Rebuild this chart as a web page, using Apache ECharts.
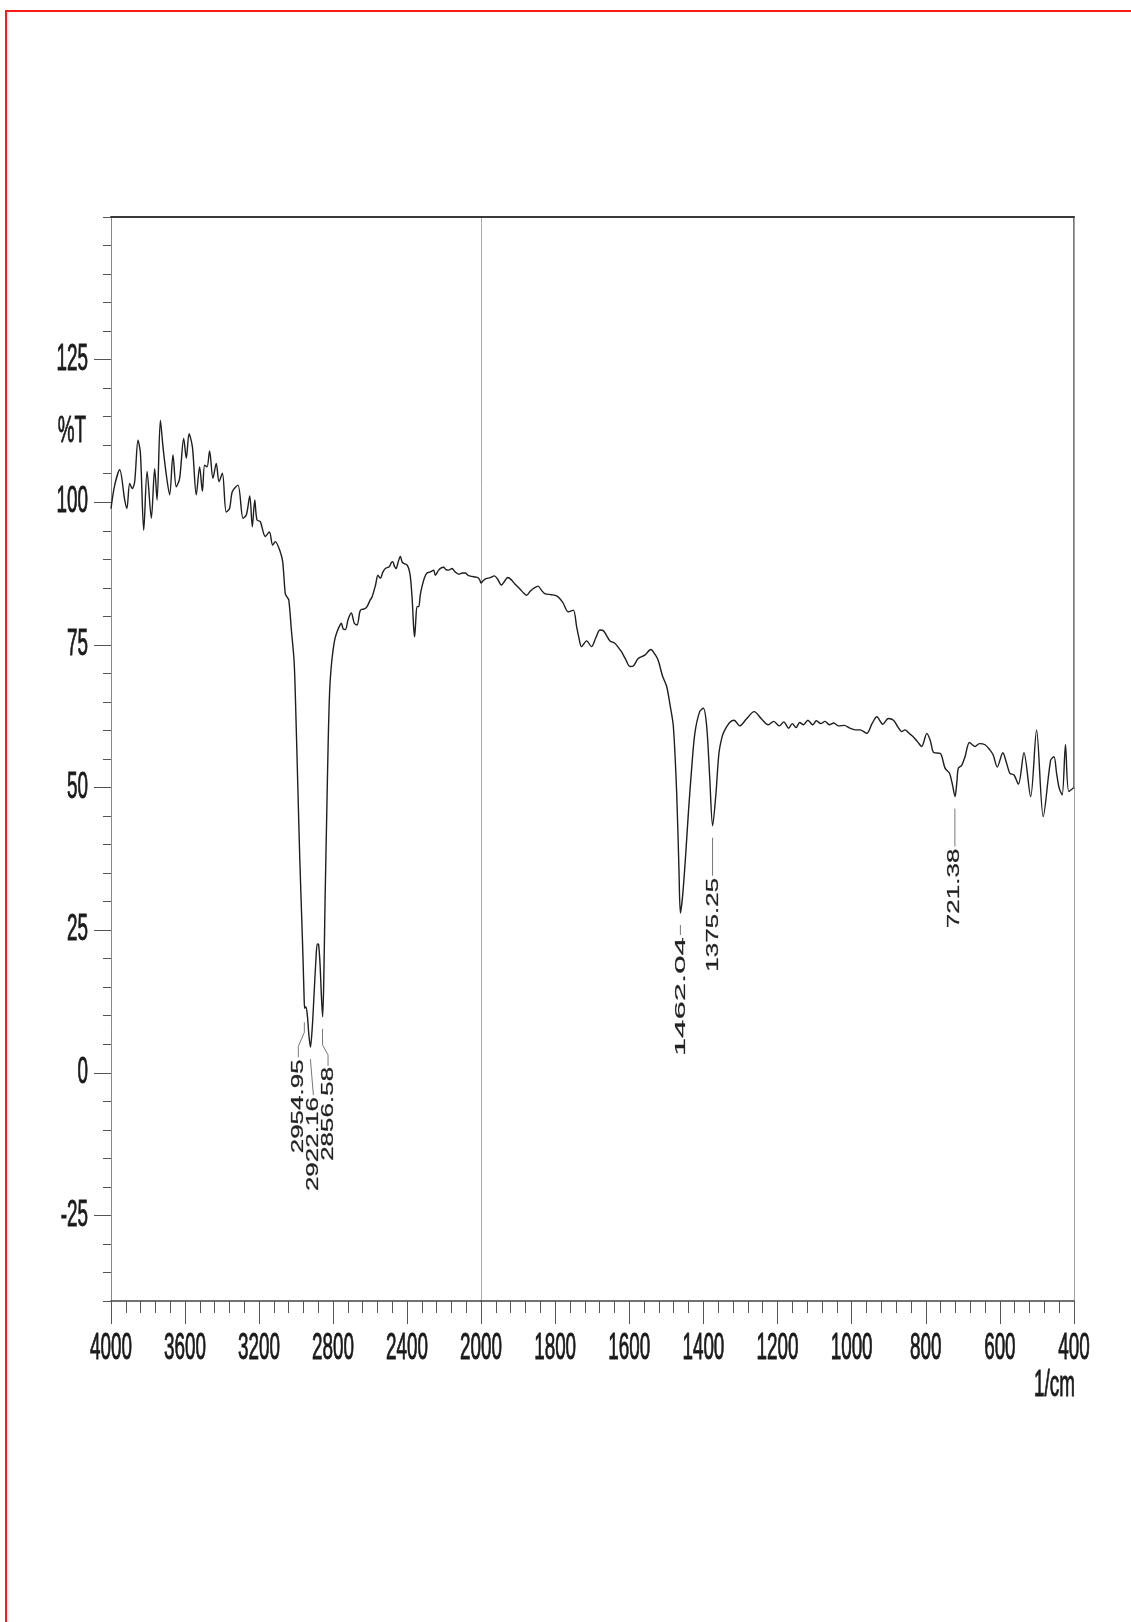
<!DOCTYPE html>
<html><head><meta charset="utf-8">
<script src="https://cdn.jsdelivr.net/npm/echarts@6/dist/echarts.min.js"></script>
<style>html,body{margin:0;padding:0;background:#fff}#c{width:1131px;height:1622px}</style>
</head><body><div id="c"></div>
<script>
// ---- data ----
const wavenumbers = [4000,3980,3953,3926,3914,3899,3885,3872,3854,3841,3823,3805,3782,3764,3751,3733,3719,3701,3683,3665,3647,3629,3607,3593,3578,3560,3539,3521,3506,3494,3481,3467,3449,3431,3416,3398,3377,3359,3344,3314,3286,3268,3250,3236,3223,3211,3193,3166,3144,3126,3112,3085,3072,3058,3049,3039,3025,3010,3000,2990,2980,2970,2962,2956,2953,2948,2940,2930,2922,2912,2902,2892,2885,2878,2870,2862,2856,2850,2843,2834,2826,2818,2810,2800,2790,2778,2765,2755,2745,2733,2718,2701,2685,2670,2655,2647,2630,2616,2600,2589,2570,2557,2544,2530,2517,2496,2485,2477,2468,2459,2448,2436,2426,2418,2400,2390,2382,2372,2364,2359,2353,2346,2337,2328,2319,2305,2292,2274,2256,2247,2229,2215,2202,2190,2175,2157,2140,2121,2100,2085,2070,2049,2030,2013,2000,1990,1975,1964,1955,1945,1935,1928,1918,1909,1895,1885,1877,1866,1856,1846,1837,1828,1810,1796,1787,1778,1765,1751,1742,1735,1729,1715,1702,1690,1679,1670,1660,1652,1639,1630,1621,1610,1598,1589,1576,1558,1542,1530,1522,1510,1499,1490,1481,1472,1466,1462,1456,1448,1440,1432,1423,1410,1400,1391,1383,1375,1366,1358,1349,1342,1329,1317,1302,1284,1263,1243,1225,1210,1195,1183,1170,1160,1150,1140,1130,1118,1105,1095,1083,1072,1060,1048,1035,1020,1005,990,977,959,945,932,916,901,887,875,865,856,845,834,822,811,797,788,778,761,748,736,728,721,716,712,703,694,682,667,655,640,627,618,607,592,582,573,562,550,535,517,501,483,463,454,447,440,432,423,414,400];
const transmittance = [98.9,103.0,105.7,100.4,98.9,103.3,102.4,103.6,110.9,108.6,95.1,105.4,97.2,105.9,100.4,114.4,109.7,104.8,101.3,108.3,102.7,104.2,111.2,107.7,112.0,109.7,101.3,106.2,101.9,106.5,106.2,109.0,104.2,106.8,103.6,105.1,98.3,98.9,101.9,103.0,97.2,97.8,101.1,95.7,100.4,96.9,96.6,94.0,94.8,92.5,93.1,91.3,89.6,84.0,83.4,82.9,77.6,72,62,50,38,28,20,13,11.3,11.6,10.5,6.5,4.5,8,14,20,22.6,22.5,19,13,9.8,16,30,45,58,67,71,74,76,77.3,78.3,78.8,77.8,77.7,79.5,80.6,78.8,78.5,80.8,81.2,81.3,81.7,82.8,83.4,85.5,87.2,86.7,87.8,88.4,88.7,89.4,89.6,88.8,88.4,89.5,90.5,89.5,89.3,89.0,88.3,87.0,83,78,76.4,79,81.7,81.7,83.8,85.2,86.8,87.6,87.8,88.1,87.2,88.1,88.5,88.6,88.2,88.1,88.4,87.8,87.4,87.6,87.6,87.2,87.0,86.9,86.7,85.8,86.5,86.8,87.1,86.5,85.5,86.3,86.8,86.4,85.7,84.8,84.1,83.7,84.5,85.0,85.3,84.6,84.0,83.8,83.6,83.1,82.3,80.8,81.1,78.2,76,74.7,75.7,74.7,76.3,77.6,77.5,76.5,75.7,75.3,74.6,73.8,72.5,71.2,71.3,72.6,73.2,74.2,73.3,72.3,69.5,67.7,64.5,60.7,49,36,28,31,38,46,53,59.5,63.3,63.9,60.7,51.9,43.3,49,56,59,60.1,61.4,61.8,60.8,62.0,63.3,62.0,61.0,61.6,60.8,61.5,60.4,61.2,60.5,61.4,61.0,61.8,61.0,61.7,61.2,61.6,61.0,61.3,60.8,60.9,60.4,60.1,60.1,59.5,61.2,62.4,61.1,62.1,61.8,60.6,59.8,60.1,59.5,58.9,58.0,57.2,59.5,58.3,56.1,56.0,53.4,52.5,50.5,48.4,51,53.4,53.9,55.4,57.9,57.2,57.7,57.5,56.6,55.7,53.6,56.1,54.3,52.5,52.2,50.6,56.1,48.4,60.1,44.9,54.8,55.4,52.5,49.9,48.7,57.5,49.3,50];
const xTickLabelsHigh = [4000,3600,3200,2800,2400,2000];
const xTickLabelsLow = [1800,1600,1400,1200,1000,800,600,400];
const yTickLabels = [125,100,75,50,25,0,-25];
const peakWn = [2954.95,2922.16,2856.58,1462.04,1375.25,721.38];
const peakT = [11.3,4.5,9.8,28,43.3,48.4];
const peakText = ['2954.95','2922.16','2856.58','1462.04','1375.25','721.38'];

// ---- build series ----
const highData = [], lowData = [];
wavenumbers.forEach((w,i)=>{
  if (w >= 2000) highData.push([w, transmittance[i]]);
  if (w <= 2000) lowData.push([w, transmittance[i]]);
});

const chart = echarts.init(document.getElementById('c'), null, {renderer:'canvas'});
const tickStyle = {color:'#555', width:1};
const hide = {show:false};
const yBase = {type:'value', min:-40, max:150, interval:5, axisLabel:hide, splitLine:hide};
chart.setOption({
  animation:false,
  backgroundColor:'#fff',
  grid:[{left:111, top:217, width:370, height:1084},{left:481, top:217, width:593, height:1084}],
  xAxis:[
    {gridIndex:0, type:'value', min:2000, max:4000, inverse:true, interval:400, position:'bottom',
     axisLine:{show:true, onZero:false, lineStyle:{color:'#444', width:1.5}},
     axisTick:{show:true, length:23, lineStyle:tickStyle},
     minorTick:{show:true, splitNumber:5, length:12, lineStyle:tickStyle},
     axisLabel:hide, splitLine:hide, minorSplitLine:hide},
    {gridIndex:1, type:'value', min:400, max:2000, inverse:true, interval:200, position:'bottom',
     axisLine:{show:true, onZero:false, lineStyle:{color:'#444', width:1.5}},
     axisTick:{show:true, length:23, lineStyle:tickStyle},
     minorTick:{show:true, splitNumber:5, length:12, lineStyle:tickStyle},
     axisLabel:hide, splitLine:hide, minorSplitLine:hide},
    {gridIndex:0, type:'value', min:2000, max:4000, inverse:true, position:'top',
     axisLine:{show:true, onZero:false, lineStyle:{color:'#3a3a3a', width:2}},
     axisTick:hide, axisLabel:hide, splitLine:hide},
    {gridIndex:1, type:'value', min:400, max:2000, inverse:true, position:'top',
     axisLine:{show:true, onZero:false, lineStyle:{color:'#3a3a3a', width:2}},
     axisTick:hide, axisLabel:hide, splitLine:hide}
  ],
  yAxis:[
    Object.assign({}, yBase, {gridIndex:0, position:'left',
      axisLine:{show:true, onZero:false, lineStyle:{color:'#888', width:1}},
      axisTick:{show:true, length:8, lineStyle:tickStyle}}),
    Object.assign({}, yBase, {gridIndex:0, position:'left',
      axisLine:{show:false},
      axisTick:{show:true, length:17, customValues:yTickLabels, lineStyle:tickStyle}}),
    Object.assign({}, yBase, {gridIndex:1, position:'left',
      axisLine:{show:true, onZero:false, lineStyle:{color:'#a8a8a8', width:1}},
      axisTick:hide}),
    Object.assign({}, yBase, {gridIndex:1, position:'right',
      axisLine:{show:true, onZero:false, lineStyle:{color:'#a0a0a0', width:1}},
      axisTick:hide})
  ],
  series:[
    {type:'line', xAxisIndex:0, yAxisIndex:0, data:highData, symbol:'none', smooth:0.3,
     lineStyle:{color:'#1e1e1e', width:1.4}, silent:true},
    {type:'line', xAxisIndex:1, yAxisIndex:2, data:lowData, symbol:'none', smooth:0.3,
     lineStyle:{color:'#1e1e1e', width:1.4}, silent:true}
  ]
});

// ---- labels & annotations placed through the axes ----
const FONT = '"Liberation Sans", Arial, sans-serif';
const g = [];
function px(w){ return w >= 2000 ? chart.convertToPixel({xAxisIndex:0}, w) : chart.convertToPixel({xAxisIndex:1}, w); }
function py(v){ return chart.convertToPixel({yAxisIndex:0}, v); }
const axisText = (t, x, y, align) => ({type:'text', x, y, scaleX:0.51, silent:true,
  style:{text:String(t), font:'37px ' + FONT, fill:'#1a1a1a', stroke:'#1a1a1a', lineWidth:0.9,
         align, verticalAlign:'middle'}});
xTickLabelsHigh.concat(xTickLabelsLow).forEach(w => g.push(axisText(w, px(w), 1349, 'center')));
yTickLabels.forEach(v => g.push(axisText(v, 88, py(v), 'right')));
g.push(axisText('%T', 86, 432, 'right'));
g.push(axisText('1/cm', 1075, 1386, 'right'));

// leader shapes (relative to dip pixel): polyline points, text anchor, font size, cross scale
const leaderLayout = [
  {pts:[[0,14],[0,24],[-6,38],[-6,49]], text:[-5.6,51], size:26, sy:0.6},
  {pts:[[0,12],[3,48]], text:[3.4,50], size:26, sy:0.6},
  {pts:[[0,12],[0,28],[5.5,38],[5.5,49]], text:[6.3,50], size:26, sy:0.6},
  {pts:[[0,12],[0,22]], text:[0,24], size:33, sy:0.47},
  {pts:[[0,12],[0,50]], text:[1,52], size:26, sy:0.6},
  {pts:[[0,12],[0,50]], text:[0,52], size:26, sy:0.6}
];
peakWn.forEach((w,i)=>{
  const x0 = px(w), y0 = py(peakT[i]);
  const L = leaderLayout[i];
  g.push({type:'polyline', silent:true, shape:{points:L.pts.map(p=>[x0+p[0], y0+p[1]])},
    style:{stroke:'#777', lineWidth:1, fill:null}});
  g.push({type:'text', silent:true, x:x0+L.text[0], y:y0+L.text[1], rotation:Math.PI/2, scaleY:L.sy,
    style:{text:peakText[i], font:L.size + 'px ' + FONT, fill:'#222', stroke:'#222', lineWidth:0.4,
           align:'right', verticalAlign:'middle'}});
});
// darker right border above the end of the trace (as on the scan)
const xEnd = px(400), yEnd = py(transmittance[transmittance.length-1]);
g.push({type:'line', silent:true, shape:{x1:xEnd, y1:217, x2:xEnd, y2:yEnd},
  style:{stroke:'#444', lineWidth:1.4}});
// red page frame of the scan (left and top edges)
g.push({type:'polyline', silent:true, shape:{points:[[6,1622],[6,11],[1131,11]]},
  style:{stroke:'#ff1a1a', lineWidth:2, fill:null}});
chart.setOption({graphic:g});
</script>
</body></html>
